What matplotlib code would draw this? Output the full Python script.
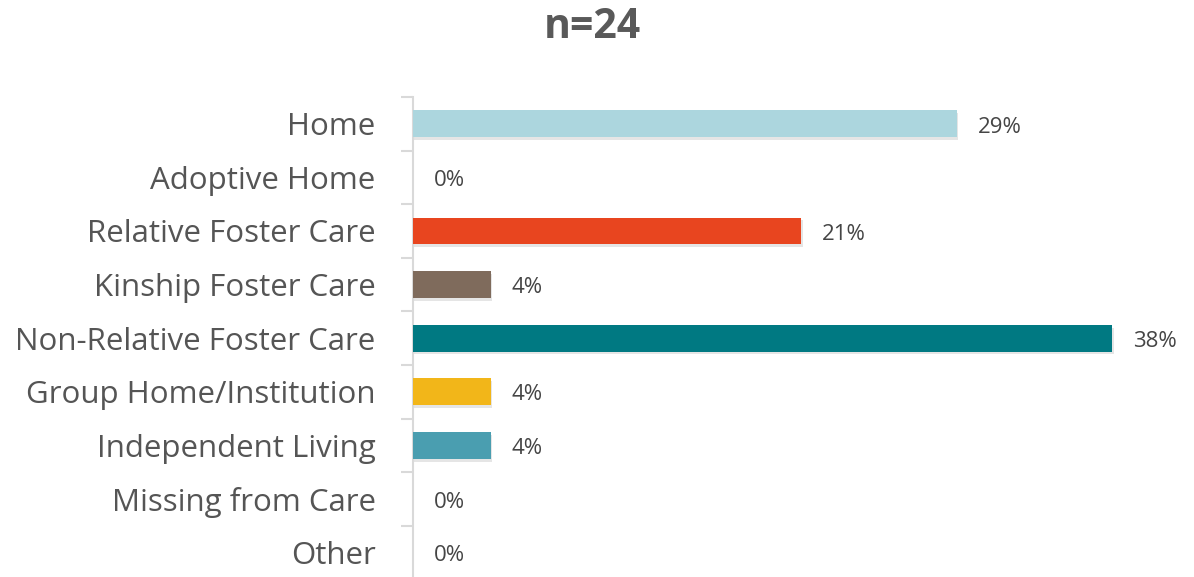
import matplotlib
matplotlib.use('Agg')
import matplotlib.pyplot as plt
import matplotlib.patheffects as pe

# данные
categories = ['Home', 'Adoptive Home', 'Relative Foster Care', 'Kinship Foster Care',
              'Non-Relative Foster Care', 'Group Home/Institution', 'Independent Living',
              'Missing from Care', 'Other']
values = [29.17, 0, 20.83, 4.17, 37.5, 4.17, 4.17, 0, 0]
colors = ['#acd6de', '#f2f2f2', '#e8451f', '#7f6b5c', '#007982', '#f2b619', '#4a9eb0',
          '#f2f2f2', '#f2f2f2']
title_text = 'n=24'

plt.rcParams['font.family'] = ['Open Sans', 'DejaVu Sans']

fig = plt.figure(figsize=(11.94, 5.77), dpi=100)
ax = fig.add_axes([413 / 1194, -5 / 577, 746 / 1194, (577 - 97 + 5) / 577])

ypos = list(range(len(categories)))
bars = ax.barh(ypos, [v / 100 for v in values], height=0.5, color=colors,
               edgecolor='none', zorder=3)
for b in bars:
    b.set_path_effects([pe.SimplePatchShadow(offset=(1.0, -2.0), shadow_rgbFace='#aaaaaa', alpha=0.3),
                        pe.Normal()])

# подписи значений
for y, v in zip(ypos, values):
    ax.text(v / 100 + 0.011, y + 0.06, f'{v:.0f}%', va='center', ha='left',
            fontsize=16, color='#454545', clip_on=False)

ax.set_xlim(0, 0.40)
ax.set_ylim(len(categories) - 0.5 + 0.05, -0.5)
ax.set_yticks(ypos)
ax.set_yticklabels(categories, fontsize=22.5, color='#555555')
ax.set_yticks([i - 0.5 for i in range(len(categories) + 1)], minor=True)
ax.tick_params(axis='y', which='major', length=0, pad=27)
ax.tick_params(axis='y', which='minor', length=9, color='#d9d9d9', width=1.5)
ax.set_xticks([])
for s in ['top', 'right', 'bottom']:
    ax.spines[s].set_visible(False)
ax.spines['left'].set_color('#d9d9d9')
ax.spines['left'].set_linewidth(1.5)

fig.text(592 / 1194, 1 - 28 / 577, title_text, ha='center', va='center',
         fontsize=29.5, fontweight='bold', color='#595959')

fig.savefig('out.png', dpi=100)
